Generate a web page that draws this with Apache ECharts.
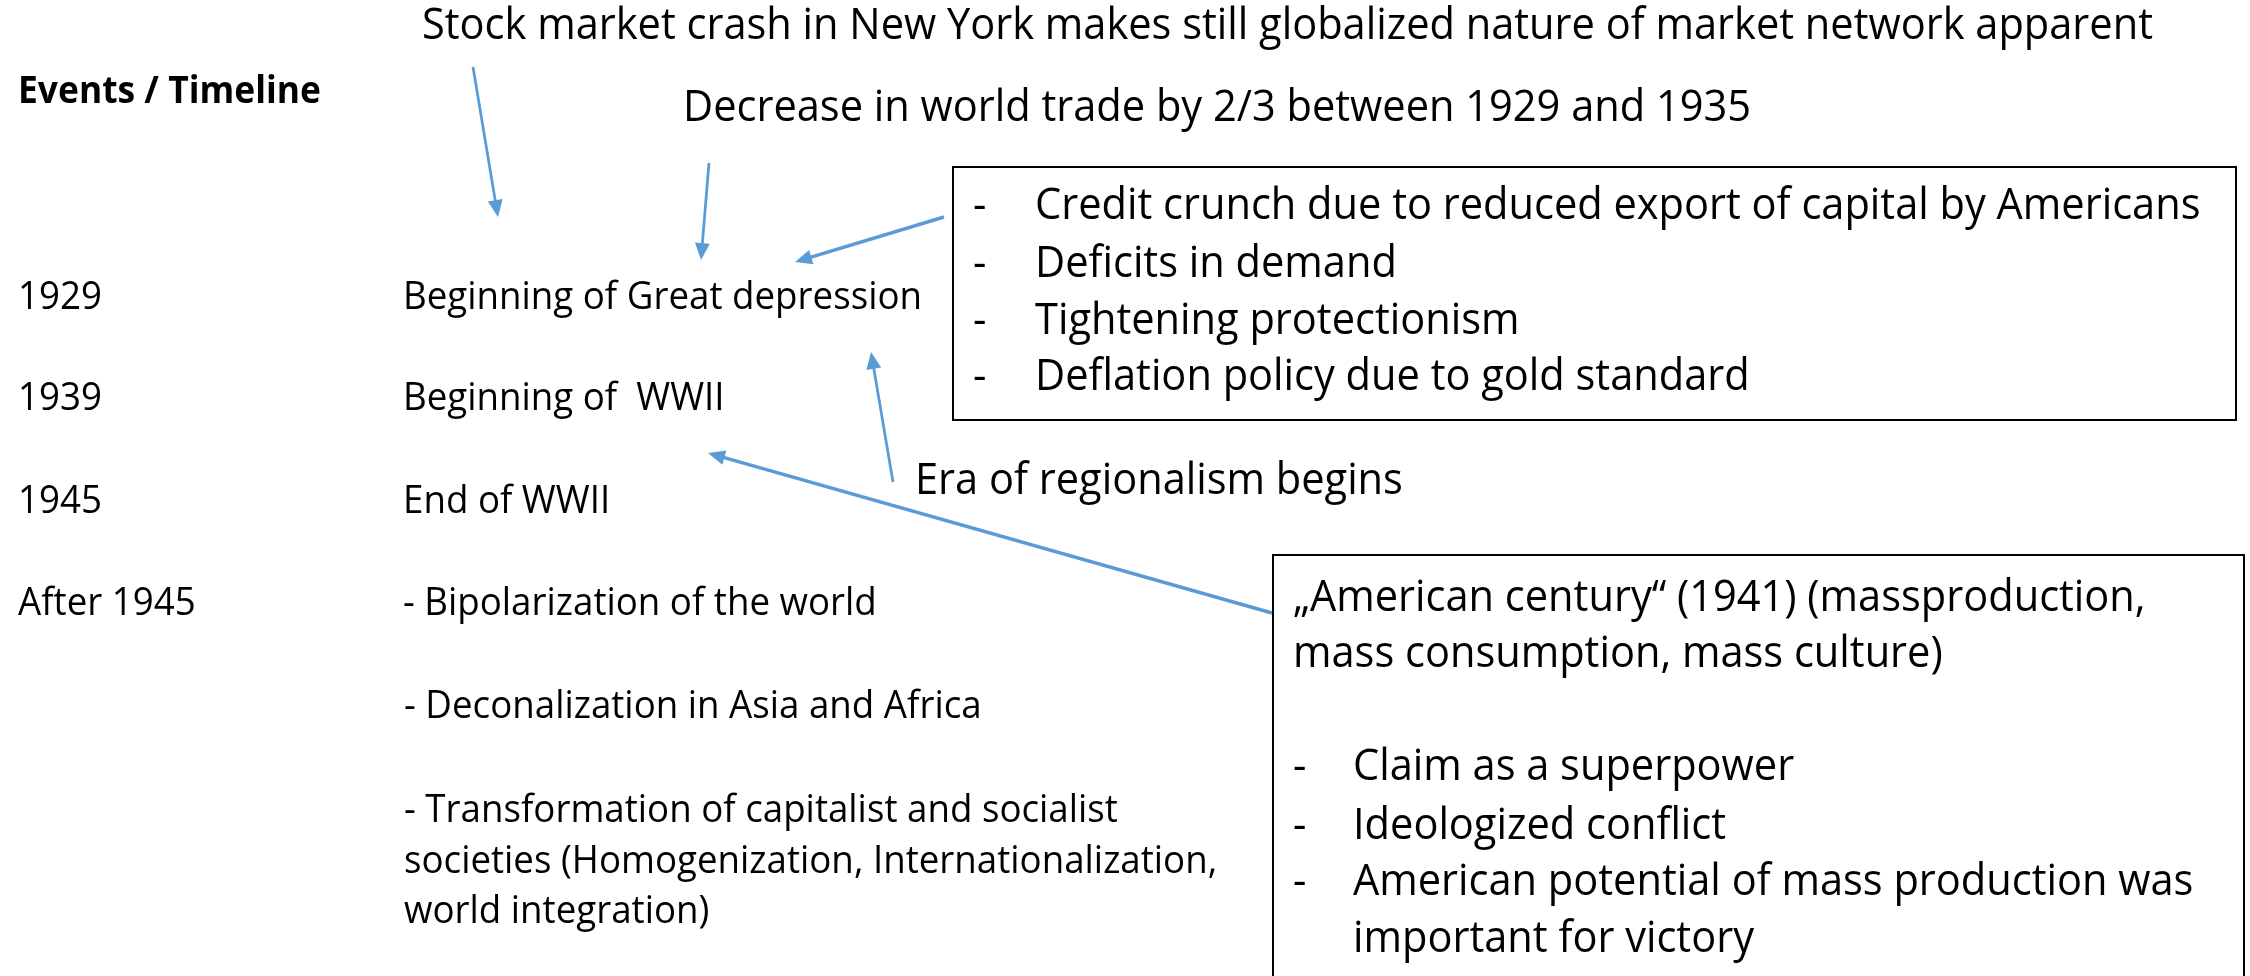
<!DOCTYPE html>
<html><head><meta charset="utf-8">
<script src="https://cdn.jsdelivr.net/npm/echarts@6/dist/echarts.min.js"></script>
<style>html,body{margin:0;padding:0;background:#fff}#c{width:2250px;height:976px}</style>
</head><body><div id="c"></div>
<script>
// ---------- content ----------
const heading = 'Events / Timeline';
const topNotes = [
  'Stock market crash in New York makes still globalized nature of market network apparent',
  'Decrease in world trade by 2/3 between 1929 and 1935'
];
const years = ['1929', '1939', '1945', 'After 1945'];
const events = ['Beginning of Great depression', 'Beginning of  WWII', 'End of WWII', '- Bipolarization of the world'];
const afterItems = ['- Deconalization in Asia and Africa', '- Transformation of capitalist and socialist',
  'societies (Homogenization, Internationalization,', 'world integration)'];
const causes = ['Credit crunch due to reduced export of capital by Americans', 'Deficits in demand',
  'Tightening protectionism', 'Deflation policy due to gold standard'];
const regionalism = 'Era of regionalism begins';
const centuryIntro = ['\u201EAmerican century\u201C (1941) (massproduction,', 'mass consumption, mass culture)'];
const centuryPoints = ['Claim as a superpower', 'Ideologized conflict',
  'American potential of mass production was', 'important for victory'];
// arrows in slide space
const arrowFromX = [473, 709, 944, 893, 1272];
const arrowFromY = [67, 163, 217, 482, 613];
const arrowToX = [498, 701, 795, 871, 708];
const arrowToY = [217, 260, 262, 352, 453];
const arrowWidth = [2.75, 2.75, 3.4, 2.75, 3.4];

// ---------- layout ----------
const L = {
  topX: [422, 683], topY: [27, 109],
  headX: 18, headY: 92,
  yearX: 18, eventX: 403, rowY: [298, 399, 502, 604],
  afterX: 404, afterY: [707, 811, 862, 912],
  box1: [953, 167, 2236, 420], box1DashX: 973, box1TextX: 1035, box1Y: [207, 265, 322, 378],
  eraX: 915, eraY: 482,
  box2: [1273, 555, 2244, 1000], box2IntroX: 1293, box2IntroY: [599, 655],
  box2DashX: 1293, box2TextX: 1353, box2Y: [768, 827, 883, 940]
};
const FAMILY = '"Open Sans", "Noto Sans", sans-serif';
const ctx = document.createElement('canvas').getContext('2d');
// font size chosen so cap height matches; horizontal scale fits measured width
function fit(text, weight, target, capPx) {
  const size = capPx / 0.714;
  ctx.font = weight + ' ' + size + 'px ' + FAMILY;
  return { size: size, sx: target / ctx.measureText(text).width };
}
const big = fit(topNotes[0], 'normal', 1731, 31);
const mid = fit(events[0], 'normal', 519, 27);
const head = fit(heading, 'bold', 303, 27);

const graphic = [];
function txt(x, y, text, f, weight) {
  graphic.push({ type: 'text', x: x, y: y, scaleX: f.sx, scaleY: 1, silent: true,
    style: { text: text, fontSize: f.size, fontFamily: FAMILY, fontWeight: weight || 'normal',
      fill: '#000', align: 'left', verticalAlign: 'middle' } });
}
function box(b) {
  graphic.push({ type: 'rect', silent: true,
    shape: { x: b[0], y: b[1], width: b[2] - b[0], height: b[3] - b[1] },
    style: { fill: 'none', stroke: '#000', lineWidth: 2 } });
}
topNotes.forEach((t, i) => txt(L.topX[i], L.topY[i], t, big));
txt(L.headX, L.headY, heading, head, 'bold');
years.forEach((t, i) => txt(L.yearX, L.rowY[i], t, mid));
events.forEach((t, i) => txt(L.eventX, L.rowY[i], t, mid));
afterItems.forEach((t, i) => txt(L.afterX, L.afterY[i], t, mid));
box(L.box1);
causes.forEach((t, i) => { txt(L.box1DashX, L.box1Y[i], '-', big); txt(L.box1TextX, L.box1Y[i], t, big); });
txt(L.eraX, L.eraY, regionalism, big);
box(L.box2);
centuryIntro.forEach((t, i) => txt(L.box2IntroX, L.box2IntroY[i], t, big));
centuryPoints.forEach((t, i) => {
  if (i < 3) txt(L.box2DashX, L.box2Y[i], '-', big);
  txt(L.box2TextX, L.box2Y[i], t, big);
});

const arrowData = arrowFromX.map((x, i) => [x, arrowFromY[i], arrowToX[i], arrowToY[i], arrowWidth[i]]);
const BLUE = '#5B9BD5';

const chart = echarts.init(document.getElementById('c'), null, { renderer: 'canvas' });
chart.setOption({
  backgroundColor: '#fff',
  animation: false,
  grid: { left: 0, right: 0, top: 0, bottom: 0 },
  xAxis: { type: 'value', min: 0, max: 2250, show: false },
  yAxis: { type: 'value', min: 0, max: 976, inverse: true, show: false },
  graphic: graphic,
  series: [{
    type: 'custom', clip: false, silent: true, z: 5,
    data: arrowData,
    renderItem: function (params, api) {
      const p1 = api.coord([api.value(0), api.value(1)]);
      const p2 = api.coord([api.value(2), api.value(3)]);
      const w = api.value(4);
      const dx = p2[0] - p1[0], dy = p2[1] - p1[1], len = Math.hypot(dx, dy);
      const ux = dx / len, uy = dy / len, nx = -uy, ny = ux;
      const hl = 17, hw = 7.5;
      const bx = p2[0] - ux * hl, by = p2[1] - uy * hl;
      return { type: 'group', children: [
        { type: 'line', shape: { x1: p1[0], y1: p1[1], x2: bx + ux * 2, y2: by + uy * 2 },
          style: { stroke: BLUE, lineWidth: w } },
        { type: 'polygon', shape: { points: [[p2[0], p2[1]], [bx + nx * hw, by + ny * hw], [bx - nx * hw, by - ny * hw]] },
          style: { fill: BLUE } }
      ] };
    }
  }]
});
</script>
</body></html>
